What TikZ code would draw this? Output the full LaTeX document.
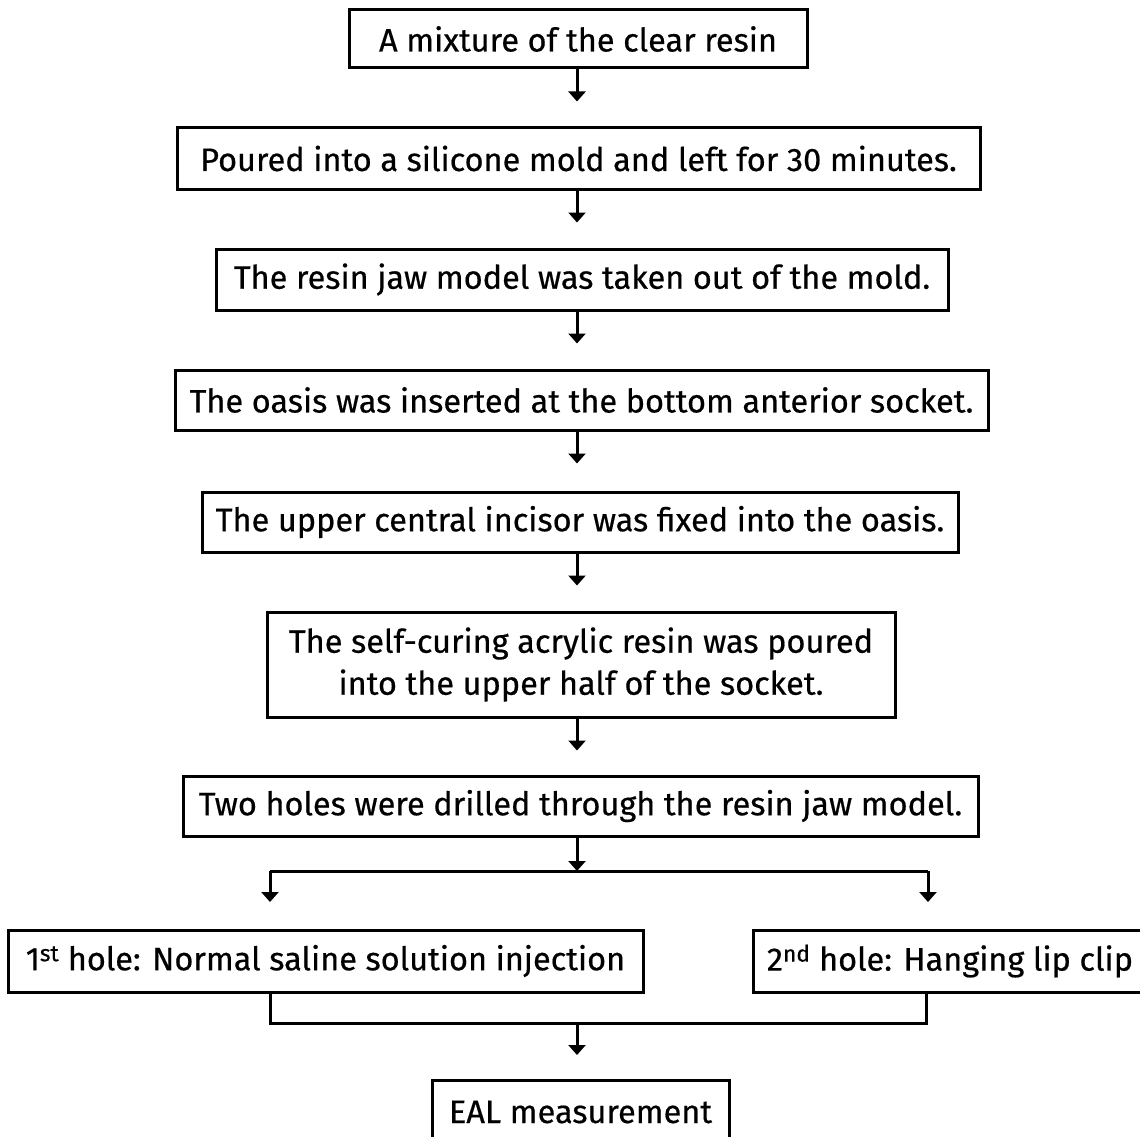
\documentclass[tikz,border=0pt]{standalone}
\usepackage{fontspec}
\setmainfont{Fira Sans}[FakeBold=0.5]
\usetikzlibrary{arrows.meta,calc}
\begin{document}
\begin{tikzpicture}[x=1pt,y=-1pt,
  stepbox/.style={draw=black,line width=3pt,inner sep=0pt,align=center,
    font=\fontsize{32.5}{42}\selectfont},
  arr/.style={line width=3pt,-{Triangle[width=17pt,length=10pt]}},
  ln/.style={line width=3pt}]
\useasboundingbox[fill=white] (0,0) rectangle (1140,1137);
\node[stepbox,minimum width=458pt,minimum height=58pt] (b1) at (578,39) {A mixture of the clear resin};
\node[stepbox,minimum width=803pt,minimum height=61pt] (b2) at (578.5,158.5) {Poured into a silicone mold and left for 30 minutes.};
\node[stepbox,minimum width=732pt,minimum height=61pt] (b3) at (582,279.5) {The resin jaw model was taken out of the mold.};
\node[stepbox,minimum width=813pt,minimum height=60pt] (b4) at (581.5,400) {The oasis was inserted at the bottom anterior socket.};
\node[stepbox,minimum width=756pt,minimum height=60pt] (b5) at (580,522) {The upper central incisor was fixed into the oasis.};
\node[stepbox,minimum width=628pt,minimum height=105pt] (b6) at (581,664.5) {The self-curing acrylic resin was poured\\ into the upper half of the socket.};
\node[stepbox,minimum width=795pt,minimum height=60pt] (b7) at (580.5,806) {Two holes were drilled through the resin jaw model.};
\node[stepbox,minimum width=635pt,minimum height=62pt] (b8) at (325.5,961) {1\textsuperscript{st} hole: Normal saline solution injection};
\node[stepbox,minimum width=394pt,minimum height=62pt] (b9) at (950,961) {2\textsuperscript{nd} hole: Hanging lip clip};
\node[stepbox,minimum width=297pt,minimum height=64pt] (b10) at (580.5,1112) {EAL measurement};
\coordinate (ax) at (577,0);
\coordinate (jl) at (270,0);
\coordinate (jr) at (928,0);
\coordinate (jr2) at (926,0);
\coordinate (top) at (577,871);
\coordinate (bot) at (577,1023);
\foreach \a/\b in {b1/b2,b2/b3,b3/b4,b4/b5,b5/b6,b6/b7}{
  \draw[arr] (\a.south -| ax) -- ($(\a.south -| ax)!32pt!(\b.north -| ax)$);
}
\draw[arr] (b7.south -| ax) -- (top);
\draw[ln] (top -| jl) -- (top -| jr);
\draw[arr] (top -| jl) -- ($(top -| jl)!31pt!(b8.north -| jl)$);
\draw[arr] (top -| jr) -- ($(top -| jr)!31pt!(b9.north -| jr)$);
\draw[ln] (b8.south -| jl) -- (bot -| jl) -- (bot -| jr2) -- (b9.south -| jr2);
\draw[arr] (bot) -- ($(bot)!32pt!(b10.north -| ax)$);
\end{tikzpicture}
\end{document}
